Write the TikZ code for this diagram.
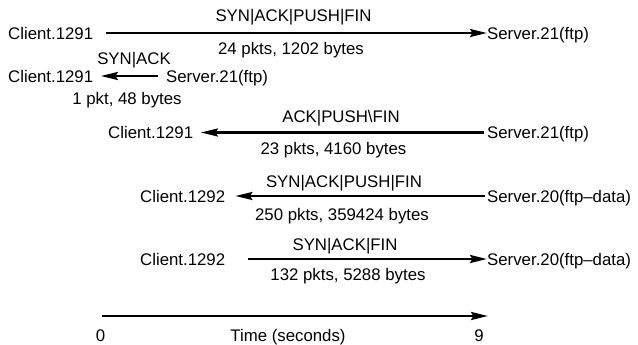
\documentclass[tikz,border=0pt]{standalone}
\usepackage{fontspec}
\setmainfont{Liberation Sans}
\usetikzlibrary{arrows.meta}
\begin{document}
\begin{tikzpicture}[x=1pt,y=-1pt,
  every node/.style={inner sep=0pt,font=\fontsize{16.8}{20}\selectfont},
  endpt/.style={text height=13pt,text depth=0pt},
  lbl/.style={anchor=base},
  arr/.style={line width=2.6pt,-{Stealth[length=17pt,width=8pt,inset=2.5pt]}}]
\useasboundingbox (0,0) rectangle (638,345);
% row 1
\node[endpt,anchor=west] (c1) at (8,33) {Client.1291};
\node[endpt,anchor=west] (s1) at (487,33) {Server.21(ftp)};
\draw[arr,shorten <=12.5pt] (c1) -- (s1);
\node[lbl] (u1) at (293.5,22) {SYN|ACK|PUSH|FIN};
\node[lbl] (d1) at (291,55) {24 pkts, 1202 bytes};
% row 2
\node[endpt,anchor=west] (c2) at (8,76) {Client.1291};
\node[endpt,anchor=west] (s2) at (166,76) {Server.21(ftp)};
\draw[arr,shorten <=8pt,shorten >=7.5pt] (s2) -- (c2);
\node[lbl] (u2) at (134,65) {SYN|ACK};
\node[lbl] (d2) at (127,105) {1 pkt, 48 bytes};
% row 3
\node[endpt,anchor=west] (c3) at (108,132.5) {Client.1291};
\node[endpt,anchor=west] (s3) at (487,132.5) {Server.21(ftp)};
\draw[arr,shorten <=3pt,shorten >=7.5pt] (s3) -- (c3);
\node[lbl] (u3) at (341,122) {ACK|PUSH\textbackslash FIN};
\node[lbl] (d3) at (333.5,154) {23 pkts, 4160 bytes};
% row 4
\node[endpt,anchor=west] (c4) at (140,196) {Client.1292};
\node[endpt,anchor=west] (s4) at (487,196) {Server.20(ftp–data)};
\draw[arr,shorten <=2pt,shorten >=10pt] (s4) -- (c4);
\node[lbl] (u4) at (344,187) {SYN|ACK|PUSH|FIN};
\node[lbl] (d4) at (342,220) {250 pkts, 359424 bytes};
% row 5
\node[endpt,anchor=west] (c5) at (140,259) {Client.1292};
\node[endpt,anchor=west] (s5) at (487,259) {Server.20(ftp–data)};
\draw[arr,shorten <=23pt] (c5) -- (s5);
\node[lbl] (u5) at (345,250) {SYN|ACK|FIN};
\node[lbl] (d5) at (348,280) {132 pkts, 5288 bytes};
% time axis
\coordinate (ax0) at (102,316);
\coordinate (ax9) at (488,316);
\draw[arr] (ax0) -- (ax9);
\node[lbl] (t0) at (100.5,341) {0};
\node[lbl] (tt) at (288,341) {Time (seconds)};
\node[lbl] (t9) at (479,341) {9};
\end{tikzpicture}
\end{document}
